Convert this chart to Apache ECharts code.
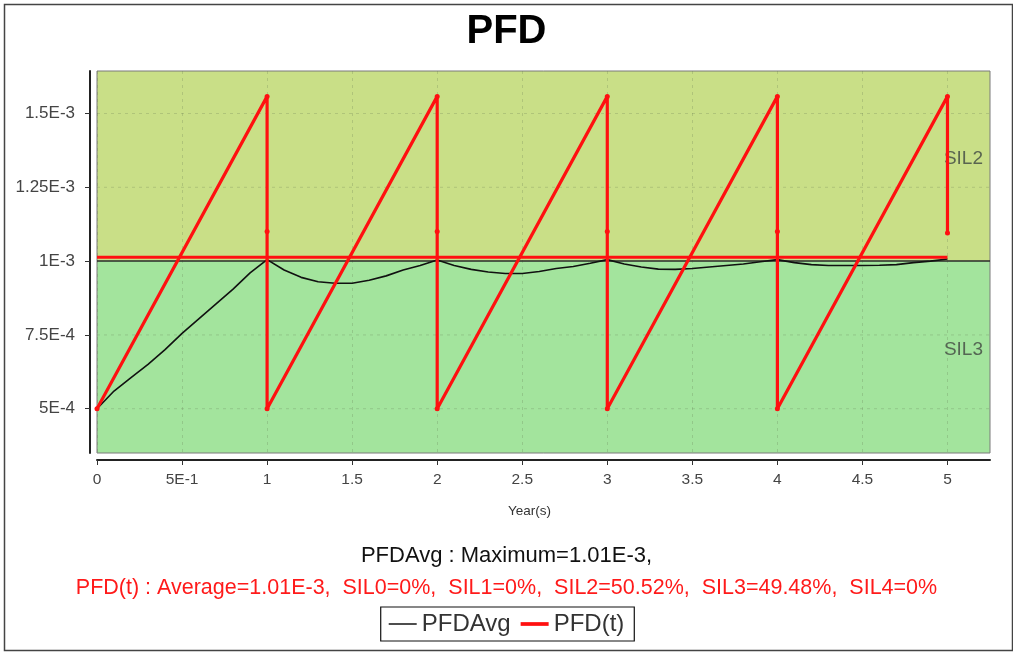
<!DOCTYPE html>
<html>
<head>
<meta charset="utf-8">
<script src="https://cdn.jsdelivr.net/npm/echarts@6/dist/echarts.min.js"></script>
<style>
  html, body { margin: 0; padding: 0; background: #ffffff; }
  #chart { width: 1013px; height: 652px; }
</style>
</head>
<body>
<div id="chart"></div>
<script>
// ---- data ----
const chartTitle = 'PFD';
const xAxisName = 'Year(s)';
const xTickValues = [0, 0.5, 1, 1.5, 2, 2.5, 3, 3.5, 4, 4.5, 5];
const xTickLabels = ['0', '5E-1', '1', '1.5', '2', '2.5', '3', '3.5', '4', '4.5', '5'];
const yTickValues = [5e-4, 7.5e-4, 1e-3, 1.25e-3, 1.5e-3];
const yTickLabels = ['5E-4', '7.5E-4', '1E-3', '1.25E-3', '1.5E-3'];

// PFD(t) sawtooth
const pfdTime  = [0, 1, 1, 1, 2, 2, 2, 3, 3, 3, 4, 4, 4, 5, 5];
const pfdValue = [5e-4, 1.558e-3, 1.1e-3, 5e-4, 1.558e-3, 1.1e-3, 5e-4, 1.558e-3, 1.1e-3, 5e-4,
                  1.558e-3, 1.1e-3, 5e-4, 1.558e-3, 1.095e-3];
// PFD(t) average line
const pfdAvgLineTime  = [0, 5];
const pfdAvgLineValue = [1.013e-3, 1.013e-3];

// PFDAvg
const avgTime = [0, 0.1, 0.2, 0.3, 0.4, 0.5, 0.6, 0.7, 0.8, 0.9,
                 1, 1.1, 1.2, 1.3, 1.4, 1.5, 1.6, 1.7, 1.8, 1.9,
                 2, 2.1, 2.2, 2.3, 2.4, 2.5, 2.6, 2.7, 2.8, 2.9,
                 3, 3.1, 3.2, 3.3, 3.4, 3.5, 3.6, 3.7, 3.8, 3.9,
                 4, 4.1, 4.2, 4.3, 4.4, 4.5, 4.6, 4.7, 4.8, 4.9, 5];
const avgValue = [5.0e-4, 5.6e-4, 6.05e-4, 6.5e-4, 7.0e-4, 7.55e-4, 8.05e-4, 8.55e-4, 9.05e-4, 9.6e-4,
                  1.005e-3, 9.7e-4, 9.45e-4, 9.3e-4, 9.25e-4, 9.25e-4, 9.35e-4, 9.5e-4, 9.7e-4, 9.85e-4,
                  1.004e-3, 9.85e-4, 9.72e-4, 9.63e-4, 9.58e-4, 9.58e-4, 9.65e-4, 9.75e-4, 9.82e-4, 9.93e-4,
                  1.005e-3, 9.9e-4, 9.8e-4, 9.73e-4, 9.72e-4, 9.75e-4, 9.8e-4, 9.85e-4, 9.9e-4, 9.98e-4,
                  1.005e-3, 9.95e-4, 9.88e-4, 9.85e-4, 9.85e-4, 9.85e-4, 9.86e-4, 9.88e-4, 9.95e-4, 1.0e-3, 1.007e-3];

// SIL bands
const silNames  = ['SIL2', 'SIL3'];
const silLower  = [1e-3, 3.5e-4];
const silUpper  = [1.644e-3, 1e-3];
const silColors = ['#c9df87', '#a3e49d'];
const silBoundary = 1e-3;

const yMin = 3.5e-4, yMax = 1.644e-3;
const xMin = 0, xMax = 5.25;

const footerLine1 = 'PFDAvg : Maximum=1.01E-3,';
const footerLine2 = 'PFD(t) : Average=1.01E-3,  SIL0=0%,  SIL1=0%,  SIL2=50.52%,  SIL3=49.48%,  SIL4=0%';
const legendNames = ['PFDAvg', 'PFD(t)'];

// ---- build ----
function zip(a, b) { return a.map((v, i) => [v, b[i]]); }
function lookup(vals, labels, v) {
  for (let i = 0; i < vals.length; i++) {
    if (Math.abs(vals[i] - v) < 1e-9) return labels[i];
  }
  return '';
}
const FONT = '"Liberation Sans", Arial, sans-serif';
const GRIDLINE = { color: 'rgba(100,120,80,0.26)', type: [3, 4], width: 1 };

// horizontal dashed grid lines (across the whole x range) as plain line series
const hGridSeries = yTickValues
  .filter(v => Math.abs(v - silBoundary) > 1e-9)
  .map(v => ({
    name: 'hgrid', type: 'line', data: [[xMin, v], [xMax, v]], z: 0.5, silent: true,
    symbol: 'none', lineStyle: GRIDLINE, tooltip: { show: false }
  }));

const chart = echarts.init(document.getElementById('chart'), null, { renderer: 'canvas' });
chart.setOption({
  animation: false,
  backgroundColor: '#ffffff',
  title: [
    { text: chartTitle, left: 'center', top: 7,
      textStyle: { fontFamily: FONT, fontSize: 40, fontWeight: 'bold', color: '#000' } },
    { text: footerLine1, left: 'center', top: 540,
      textStyle: { fontFamily: FONT, fontSize: 22, fontWeight: 'normal', color: '#111' } },
    { text: footerLine2, left: 'center', top: 572,
      textStyle: { fontFamily: FONT, fontSize: 21.5, fontWeight: 'normal', color: '#ff1a1a' } }
  ],
  graphic: [
    { type: 'rect', left: 2, top: 2, silent: true,
      shape: { width: 1008, height: 646 },
      style: { fill: 'none', stroke: '#444', lineWidth: 1.5 } }
  ],
  legend: {
    data: [
      { name: legendNames[0], icon: 'path://M0,0h30v1.6h-30z' },
      { name: legendNames[1], icon: 'path://M0,0h30v4h-30z' }
    ],
    left: 'center', top: 607,
    itemWidth: 28, itemHeight: 14, itemGap: 10,
    borderColor: '#111', borderWidth: 1.2, padding: [5, 10, 5, 8],
    textStyle: { fontFamily: FONT, fontSize: 24, color: '#333', padding: [0, 0, 0, 0] }
  },
  grid: { left: 97, right: 23, top: 71, bottom: 199, show: true,
          borderColor: '#7a7a7a', borderWidth: 1, backgroundColor: 'transparent' },
  xAxis: {
    type: 'value', min: xMin, max: xMax, interval: 0.5, z: 0,
    offset: 7,
    name: xAxisName, nameLocation: 'middle', nameGap: 44,
    nameTextStyle: { fontFamily: FONT, fontSize: 13.5, color: '#333', padding: [0, 28, 0, 0] },
    axisLine: { show: true, onZero: false, lineStyle: { color: '#222', width: 2 } },
    axisTick: { show: true, inside: false, length: 5, customValues: xTickValues,
                lineStyle: { color: '#333', width: 1 } },
    axisLabel: { customValues: xTickValues, margin: 12, fontFamily: FONT, fontSize: 15.5, color: '#444',
                 formatter: v => lookup(xTickValues, xTickLabels, v) },
    splitLine: { show: true, lineStyle: GRIDLINE }
  },
  yAxis: {
    type: 'value', min: yMin, max: yMax, z: 0,
    offset: 7,
    axisLine: { show: true, onZero: false, lineStyle: { color: '#222', width: 2 } },
    axisTick: { show: true, inside: false, length: 5, customValues: yTickValues,
                lineStyle: { color: '#333', width: 1 } },
    axisLabel: { customValues: yTickValues, margin: 15, fontFamily: FONT, fontSize: 17, color: '#444',
                 formatter: v => lookup(yTickValues, yTickLabels, v) },
    splitLine: { show: false }
  },
  series: [
    {
      name: 'bands', type: 'line', data: [], z: -2, silent: true,
      markArea: {
        silent: true, z: -2,
        data: silNames.map((n, i) => [
          { name: n, yAxis: silLower[i], itemStyle: { color: silColors[i], opacity: 1 },
            label: { show: true, position: 'insideRight', distance: 7, offset: [0, -7], fontFamily: FONT,
                     fontSize: 19, color: 'rgba(70,80,70,0.85)' } },
          { yAxis: silUpper[i] }
        ])
      }
    }
  ].concat(hGridSeries).concat([
    {
      name: 'boundary', type: 'line', data: [[xMin, silBoundary], [xMax, silBoundary]],
      z: 1, silent: true, symbol: 'none',
      lineStyle: { color: '#2a2a2a', type: 'solid', width: 1.5 }
    },
    {
      name: legendNames[0], type: 'line', data: zip(avgTime, avgValue),
      symbol: 'none', z: 3,
      lineStyle: { color: '#111', width: 1.6 }, itemStyle: { color: '#111' }
    },
    {
      name: legendNames[1], type: 'line', data: zip(pfdTime, pfdValue),
      symbol: 'circle', symbolSize: 5, showSymbol: true, z: 4,
      lineStyle: { color: '#ff1010', width: 3.2 }, itemStyle: { color: '#ff1010' }
    },
    {
      name: legendNames[1], type: 'line', data: zip(pfdAvgLineTime, pfdAvgLineValue),
      symbol: 'none', z: 4,
      lineStyle: { color: '#ff1010', width: 3 }, itemStyle: { color: '#ff1010' }
    }
  ])
});
</script>
</body>
</html>
